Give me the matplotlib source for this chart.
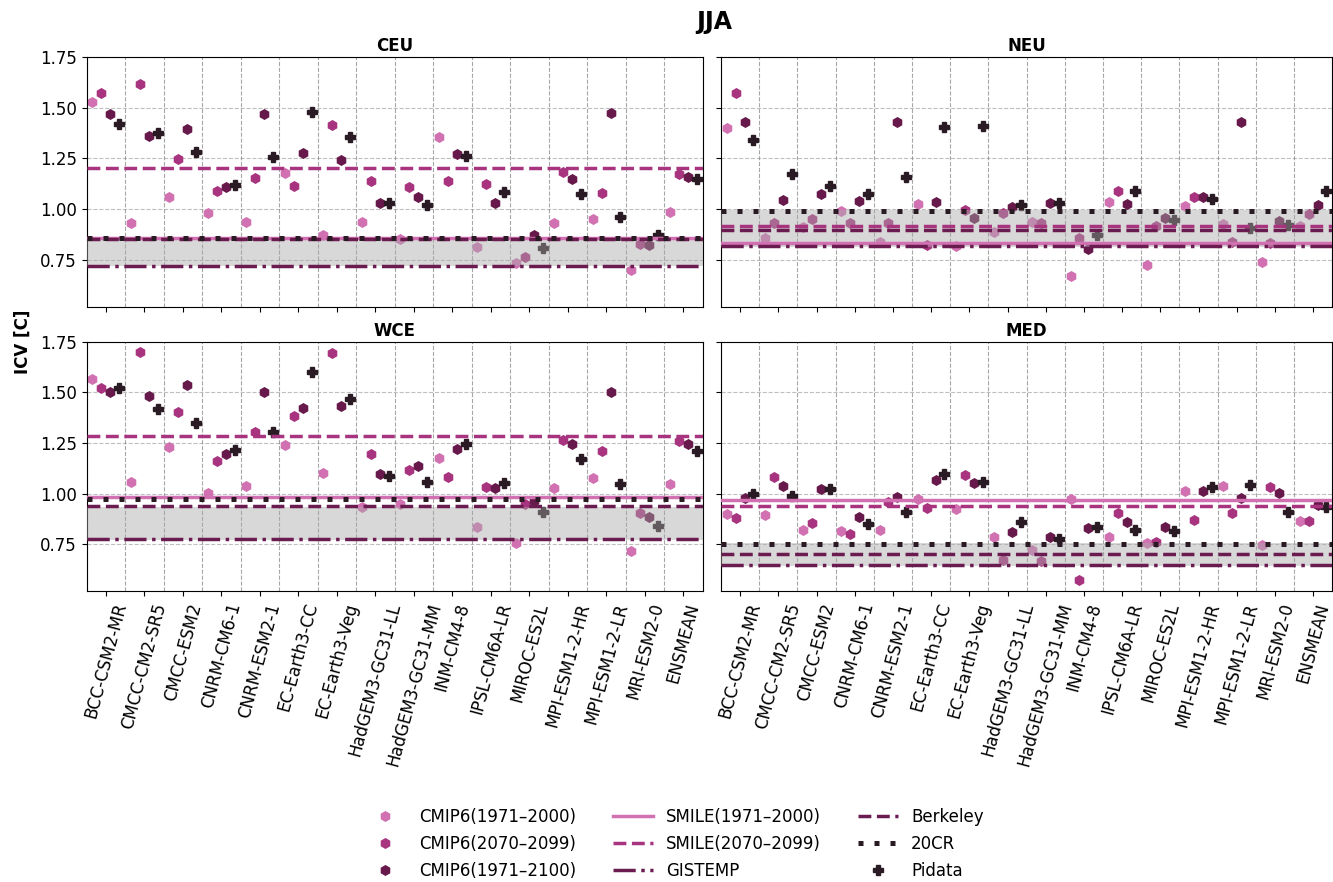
import numpy as np
import matplotlib.pyplot as plt
from matplotlib.ticker import MultipleLocator

models = ['BCC-CSM2-MR', 'CMCC-CM2-SR5', 'CMCC-ESM2', 'CNRM-CM6-1', 'CNRM-ESM2-1',
          'EC-Earth3-CC', 'EC-Earth3-Veg', 'HadGEM3-GC31-LL', 'HadGEM3-GC31-MM',
          'INM-CM4-8', 'IPSL-CM6A-LR', 'MIROC-ES2L', 'MPI-ESM1-2-HR', 'MPI-ESM1-2-LR',
          'MRI-ESM2-0', 'ENSMEAN']
regions = ['CEU', 'NEU', 'WCE', 'MED']

# CMIP6 ICV per model: 1971-2000, 2070-2099, 1971-2100, Pidata
ceu_hist = [1.528, 0.931, 1.058, 0.979, 0.939, 1.178, 0.873, 0.936, 0.855, 1.354, 0.816, 0.737, 0.931, 0.951, 0.702, 0.985]
ceu_fut = [1.572, 1.615, 1.245, 1.087, 1.153, 1.115, 1.413, 1.137, 1.110, 1.137, 1.123, 0.763, 1.181, 1.081, 0.829, 1.171]
ceu_full = [1.470, 1.360, 1.393, 1.107, 1.470, 1.278, 1.242, 1.030, 1.058, 1.270, 1.028, 0.873, 1.150, 1.472, 0.822, 1.158]
ceu_pi = [1.421, 1.377, 1.281, 1.117, 1.258, 1.477, 1.357, 1.031, 1.020, 1.261, 1.084, 0.808, 1.074, 0.961, 0.872, 1.150]

neu_hist = [1.401, 0.857, 0.911, 0.993, 0.836, 1.026, 0.821, 0.886, 0.939, 0.669, 1.035, 0.725, 1.015, 0.928, 0.738, 0.919]
neu_fut = [1.569, 0.931, 0.951, 0.933, 0.933, 0.822, 0.995, 0.983, 0.934, 0.857, 1.087, 0.919, 1.061, 0.837, 0.834, 0.975]
neu_full = [1.428, 1.046, 1.076, 1.038, 1.428, 1.033, 0.956, 1.010, 1.031, 0.804, 1.023, 0.957, 1.061, 1.428, 0.944, 1.018]
neu_pi = [1.342, 1.171, 1.112, 1.072, 1.158, 1.405, 1.410, 1.020, 1.030, 0.873, 1.090, 0.947, 1.051, 0.906, 0.924, 1.090]

wce_hist = [1.564, 1.056, 1.232, 1.005, 1.038, 1.242, 1.104, 0.934, 0.947, 1.178, 0.834, 0.758, 1.026, 1.077, 0.719, 1.049]
wce_fut = [1.520, 1.701, 1.401, 1.161, 1.304, 1.382, 1.694, 1.197, 1.117, 1.084, 1.033, 0.947, 1.266, 1.209, 0.906, 1.260]
wce_full = [1.500, 1.480, 1.536, 1.196, 1.503, 1.421, 1.433, 1.097, 1.137, 1.219, 1.026, 0.964, 1.247, 1.502, 0.885, 1.243]
wce_pi = [1.523, 1.416, 1.349, 1.215, 1.306, 1.600, 1.469, 1.086, 1.056, 1.243, 1.053, 0.908, 1.169, 1.049, 0.842, 1.209]

med_hist = [0.898, 0.895, 0.821, 0.817, 0.821, 0.972, 0.923, 0.785, 0.722, 0.975, 0.786, 0.755, 1.015, 1.039, 0.745, 0.865]
med_fut = [0.882, 1.084, 0.857, 0.799, 0.957, 0.931, 1.094, 0.673, 0.668, 0.576, 0.906, 0.762, 0.868, 0.906, 1.031, 0.865]
med_full = [0.977, 1.036, 1.021, 0.886, 0.982, 1.066, 1.051, 0.812, 0.788, 0.829, 0.860, 0.834, 1.013, 0.977, 1.005, 0.944]
med_pi = [0.998, 0.988, 1.025, 0.852, 0.910, 1.097, 1.058, 0.860, 0.778, 0.837, 0.821, 0.816, 1.033, 1.044, 0.910, 0.936]

# reference lines per region (CEU, NEU, WCE, MED)
smile_hist = [0.860, 0.834, 0.982, 0.968]
smile_fut = [1.202, 0.918, 1.283, 0.938]
gistemp = [0.721, 0.821, 0.778, 0.649]
berkeley = [0.852, 0.897, 0.941, 0.701]
cr20 = [0.858, 0.992, 0.972, 0.751]
band_lo = [0.720, 0.814, 0.774, 0.641]
band_hi = [0.846, 0.998, 0.935, 0.757]

data = {
    'CEU': (ceu_hist, ceu_fut, ceu_full, ceu_pi),
    'NEU': (neu_hist, neu_fut, neu_full, neu_pi),
    'WCE': (wce_hist, wce_fut, wce_full, wce_pi),
    'MED': (med_hist, med_fut, med_full, med_pi),
}

c_hist = '#D171B2'
c_fut = '#A8347F'
c_full = '#66194A'
c_obs = '#6A1B4F'
c_pi = '#2A1A24'

fig = plt.figure(figsize=(13.33, 8.82), dpi=100)
positions = [
    [0.0650, 0.6523, 0.4621, 0.2834],
    [0.5409, 0.6523, 0.4585, 0.2834],
    [0.0650, 0.3299, 0.4621, 0.2827],
    [0.5409, 0.3299, 0.4585, 0.2827],
]
axes = []
for k, pos in enumerate(positions):
    if k == 0:
        ax = fig.add_axes(pos)
    else:
        ax = fig.add_axes(pos, sharex=axes[0], sharey=axes[0])
    axes.append(ax)

x = np.arange(len(models))
offs = [-0.35, -0.117, 0.117, 0.35]

for k, (ax, reg) in enumerate(zip(axes, regions)):
    hist, fut, full, pi = data[reg]
    ax.plot(x + offs[0], hist, 'h', color=c_hist, ms=6.8, ls='none', zorder=2, label='CMIP6(1971–2000)')
    ax.plot(x + offs[1], fut, 'h', color=c_fut, ms=6.8, ls='none', zorder=2, label='CMIP6(2070–2099)')
    ax.plot(x + offs[2], full, 'h', color=c_full, ms=6.8, ls='none', zorder=2, label='CMIP6(1971–2100)')
    ax.plot(x + offs[3], pi, 'P', color=c_pi, ms=7.5, ls='none', zorder=2, label='Pidata')

    ax.axhspan(band_lo[k], band_hi[k], color='#a9a9a9', alpha=0.45, lw=0, zorder=3)

    ax.axhline(smile_hist[k], color=c_hist, lw=2.5, zorder=4, label='SMILE(1971–2000)')
    ax.axhline(smile_fut[k], color=c_fut, lw=2.5, ls='--', zorder=4, label='SMILE(2070–2099)')
    ax.axhline(gistemp[k], color=c_obs, lw=2.5, ls='-.', zorder=4, label='GISTEMP')
    ax.axhline(berkeley[k], color=c_obs, lw=2.5, ls='--', zorder=4, label='Berkeley')
    ax.axhline(cr20[k], color=c_pi, lw=3.6, ls=(0, (1, 2.2)), dash_capstyle='butt', zorder=5, label='20CR')

    ax.set_title(reg, fontsize=12, fontweight='bold', pad=4)
    ax.xaxis.set_minor_locator(MultipleLocator(1, offset=0.5))
    ax.grid(True, which='minor', axis='x', ls='--', color='gray', alpha=0.7, lw=0.8)
    ax.grid(True, which='major', axis='y', ls='--', color='gray', alpha=0.5, lw=0.8)
    ax.tick_params(axis='x', which='minor', length=0)
    ax.tick_params(labelsize=12)
    ax.set_axisbelow(True)
    if k % 2 == 1:
        ax.tick_params(labelleft=False)
    if k < 2:
        ax.tick_params(labelbottom=False)
    else:
        ax.set_xticks(x)
        ax.set_xticklabels(models, rotation=75)

axes[0].set_xlim(-0.5, 15.5)
axes[0].set_ylim(0.52, 1.75)
axes[0].set_yticks([0.75, 1.0, 1.25, 1.5, 1.75])
axes[0].set_xticks(x)

fig.text(0.5356, 0.975, 'JJA', ha='center', va='center', fontsize=17, fontweight='bold')
fig.text(0.017, 0.613, 'ICV [C]', rotation=90, ha='center', va='center', fontsize=12, fontweight='bold')

h, l = axes[0].get_legend_handles_labels()
lookup = dict(zip(l, h))
order = ['CMIP6(1971–2000)', 'CMIP6(2070–2099)', 'CMIP6(1971–2100)',
         'SMILE(1971–2000)', 'SMILE(2070–2099)', 'GISTEMP',
         'Berkeley', '20CR', 'Pidata']
fig.legend([lookup[o] for o in order], order, loc='upper center', bbox_to_anchor=(0.506, 0.101),
           ncol=3, frameon=False, fontsize=12, handlelength=2.4, columnspacing=2.2, labelspacing=0.55)

fig.savefig('out.png', dpi=100)
